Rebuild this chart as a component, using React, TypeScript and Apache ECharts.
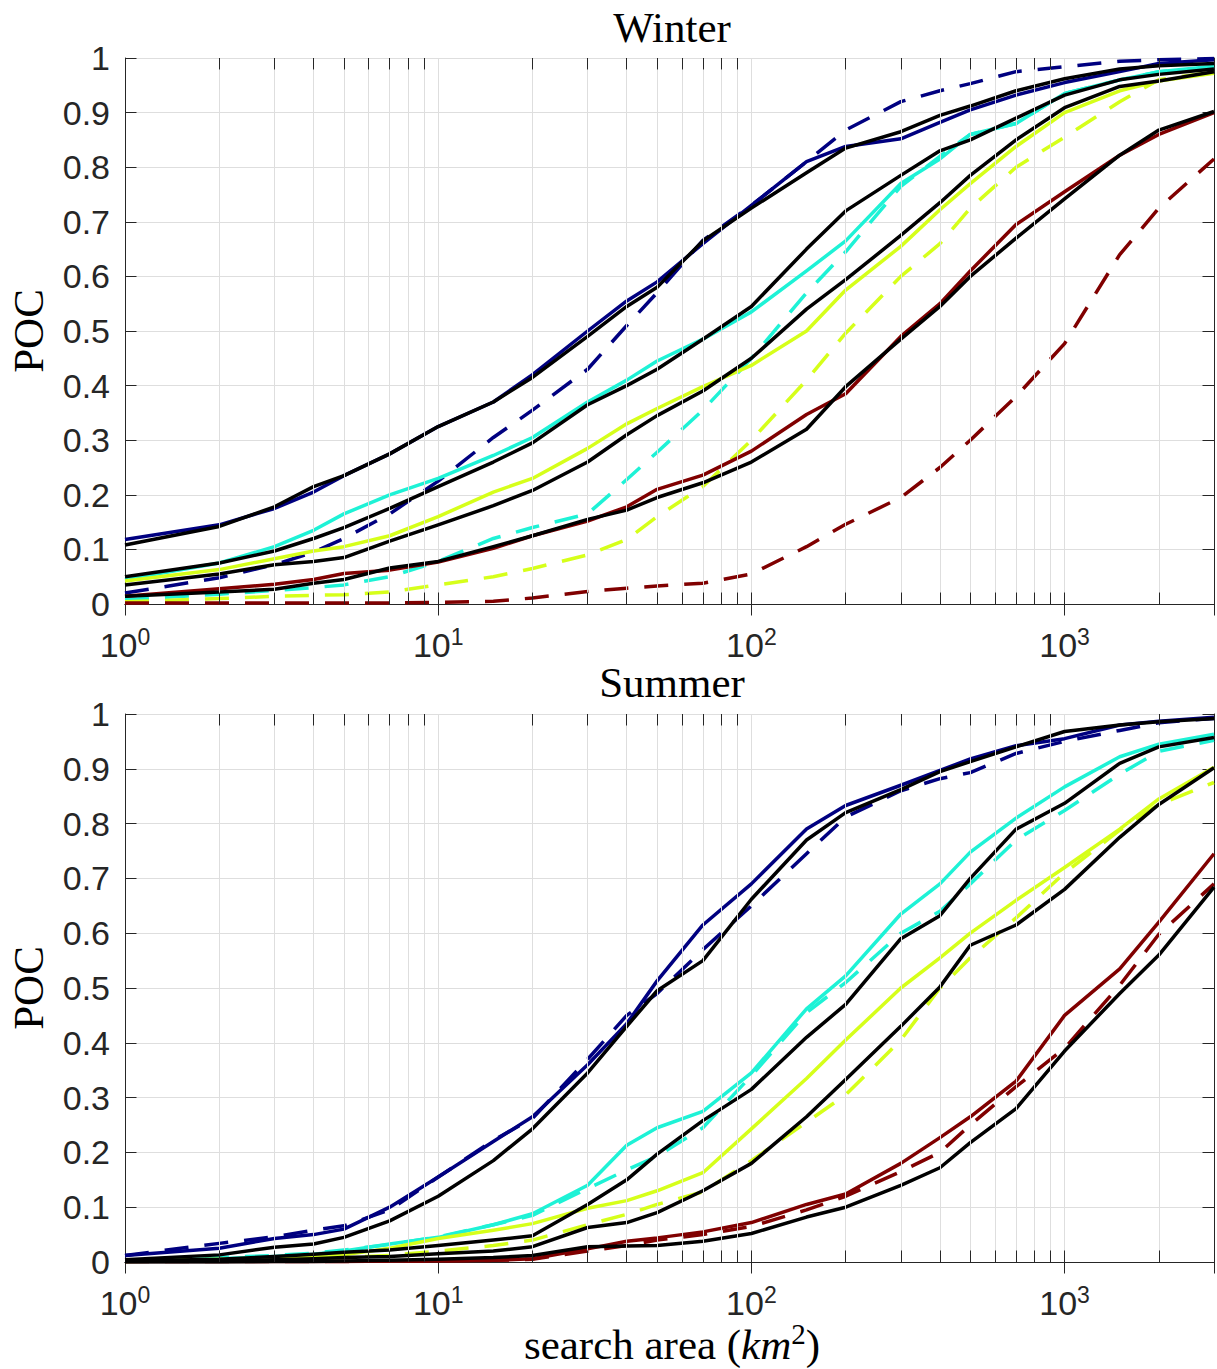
import React, { useEffect, useRef } from "react";
import * as echarts from "echarts";

// search area (km^2) sample points shared by all curves
const AREA = [1, 2, 3, 4, 5, 7, 10, 15, 20, 30, 40, 50, 70, 100, 150, 200, 300, 400, 500, 700, 1000, 1500, 2000, 3000];

// Winter
const W_BLUE = [0.118, 0.145, 0.175, 0.205, 0.235, 0.275, 0.325, 0.37, 0.42, 0.5, 0.555, 0.59, 0.66, 0.73, 0.81, 0.838, 0.852, 0.882, 0.905, 0.932, 0.955, 0.975, 0.99, 0.997];
const W_BLUE_D = [0.02, 0.048, 0.072, 0.095, 0.12, 0.165, 0.225, 0.305, 0.355, 0.43, 0.51, 0.57, 0.666, 0.73, 0.81, 0.868, 0.92, 0.94, 0.953, 0.975, 0.984, 0.994, 0.997, 0.999];
const W_BLACK1 = [0.108, 0.142, 0.178, 0.215, 0.235, 0.275, 0.325, 0.37, 0.415, 0.49, 0.545, 0.58, 0.665, 0.725, 0.79, 0.835, 0.865, 0.895, 0.912, 0.94, 0.962, 0.98, 0.986, 0.99];
const W_CYAN = [0.045, 0.075, 0.105, 0.135, 0.165, 0.2, 0.23, 0.272, 0.305, 0.37, 0.41, 0.445, 0.485, 0.535, 0.61, 0.665, 0.77, 0.815, 0.86, 0.88, 0.935, 0.96, 0.975, 0.985];
const W_CYAN_D = [0.008, 0.018, 0.025, 0.03, 0.035, 0.05, 0.078, 0.12, 0.14, 0.165, 0.228, 0.278, 0.355, 0.45, 0.57, 0.645, 0.765, 0.82, 0.86, 0.88, 0.935, 0.96, 0.975, 0.982];
const W_BLACK2 = [0.05, 0.075, 0.097, 0.12, 0.14, 0.175, 0.215, 0.26, 0.295, 0.365, 0.4, 0.43, 0.485, 0.545, 0.65, 0.72, 0.785, 0.83, 0.85, 0.89, 0.932, 0.96, 0.97, 0.98];
const W_YELLOW = [0.042, 0.063, 0.083, 0.097, 0.105, 0.125, 0.16, 0.205, 0.23, 0.285, 0.33, 0.358, 0.398, 0.437, 0.5, 0.575, 0.655, 0.722, 0.77, 0.838, 0.9, 0.94, 0.958, 0.972];
const W_YELLOW_D = [0.004, 0.01, 0.014, 0.016, 0.017, 0.022, 0.035, 0.05, 0.065, 0.09, 0.118, 0.16, 0.215, 0.3, 0.41, 0.496, 0.6, 0.66, 0.725, 0.8, 0.855, 0.92, 0.96, 0.975];
const W_BLACK3 = [0.035, 0.055, 0.072, 0.078, 0.085, 0.115, 0.145, 0.18, 0.208, 0.26, 0.31, 0.345, 0.39, 0.45, 0.54, 0.594, 0.675, 0.735, 0.785, 0.85, 0.909, 0.948, 0.958, 0.975];
const W_RED = [0.014, 0.028, 0.036, 0.045, 0.056, 0.062, 0.077, 0.102, 0.125, 0.152, 0.178, 0.21, 0.236, 0.28, 0.347, 0.385, 0.49, 0.55, 0.61, 0.695, 0.755, 0.822, 0.86, 0.9];
const W_RED_D = [0.002, 0.002, 0.002, 0.002, 0.002, 0.002, 0.003, 0.005, 0.011, 0.023, 0.029, 0.033, 0.038, 0.055, 0.105, 0.146, 0.195, 0.25, 0.3, 0.38, 0.477, 0.64, 0.725, 0.815];
const W_BLACK4 = [0.014, 0.022, 0.027, 0.038, 0.045, 0.066, 0.078, 0.105, 0.125, 0.155, 0.172, 0.195, 0.222, 0.26, 0.32, 0.398, 0.485, 0.545, 0.6, 0.67, 0.742, 0.822, 0.868, 0.902];

// Summer
const S_BLUE = [0.012, 0.025, 0.043, 0.05, 0.06, 0.1, 0.155, 0.22, 0.265, 0.36, 0.435, 0.513, 0.615, 0.69, 0.79, 0.833, 0.87, 0.897, 0.918, 0.942, 0.955, 0.98, 0.987, 0.994];
const S_BLUE_D = [0.012, 0.034, 0.046, 0.058, 0.066, 0.095, 0.155, 0.222, 0.262, 0.37, 0.45, 0.49, 0.57, 0.65, 0.745, 0.812, 0.86, 0.882, 0.893, 0.928, 0.95, 0.97, 0.984, 0.992];
const S_BLACK1 = [0.004, 0.013, 0.027, 0.033, 0.045, 0.075, 0.12, 0.185, 0.243, 0.345, 0.43, 0.495, 0.55, 0.662, 0.77, 0.82, 0.862, 0.895, 0.913, 0.94, 0.968, 0.98, 0.986, 0.992];
const S_CYAN = [0.003, 0.006, 0.01, 0.014, 0.02, 0.033, 0.045, 0.068, 0.088, 0.14, 0.213, 0.245, 0.275, 0.345, 0.462, 0.522, 0.635, 0.69, 0.748, 0.81, 0.867, 0.922, 0.945, 0.963];
const S_CYAN_D = [0.003, 0.008, 0.012, 0.016, 0.022, 0.032, 0.046, 0.068, 0.085, 0.134, 0.168, 0.193, 0.245, 0.34, 0.455, 0.51, 0.6, 0.64, 0.69, 0.77, 0.824, 0.89, 0.932, 0.952];
const S_BLACK2 = [0.002, 0.005, 0.01, 0.014, 0.018, 0.022, 0.03, 0.04, 0.048, 0.105, 0.15, 0.197, 0.258, 0.315, 0.41, 0.47, 0.59, 0.632, 0.7, 0.79, 0.837, 0.91, 0.94, 0.957];
const S_YELLOW = [0.002, 0.005, 0.008, 0.01, 0.013, 0.025, 0.043, 0.058, 0.07, 0.098, 0.112, 0.13, 0.163, 0.243, 0.335, 0.405, 0.5, 0.555, 0.6, 0.66, 0.72, 0.79, 0.845, 0.903];
const S_YELLOW_D = [0.001, 0.002, 0.004, 0.006, 0.008, 0.012, 0.02, 0.03, 0.04, 0.068, 0.087, 0.105, 0.128, 0.185, 0.255, 0.305, 0.405, 0.5, 0.555, 0.628, 0.71, 0.788, 0.835, 0.875];
const S_BLACK3 = [0.001, 0.002, 0.004, 0.006, 0.008, 0.01, 0.015, 0.02, 0.028, 0.063, 0.072, 0.09, 0.13, 0.18, 0.265, 0.333, 0.43, 0.502, 0.578, 0.615, 0.68, 0.775, 0.835, 0.902];
const S_RED = [0.001, 0.001, 0.001, 0.001, 0.001, 0.002, 0.002, 0.003, 0.006, 0.024, 0.038, 0.044, 0.055, 0.072, 0.105, 0.124, 0.18, 0.227, 0.265, 0.33, 0.45, 0.535, 0.62, 0.745];
const S_RED_D = [0.001, 0.001, 0.001, 0.001, 0.001, 0.002, 0.002, 0.003, 0.005, 0.02, 0.03, 0.04, 0.05, 0.065, 0.095, 0.12, 0.165, 0.2, 0.25, 0.32, 0.39, 0.505, 0.598, 0.69];
const S_BLACK4 = [0, 0, 0.001, 0.001, 0.002, 0.003, 0.005, 0.008, 0.012, 0.028, 0.029, 0.03, 0.038, 0.052, 0.082, 0.1, 0.14, 0.172, 0.218, 0.28, 0.385, 0.49, 0.56, 0.684];

// axis ticks
const DECADES = [1, 10, 100, 1000];
const MINOR_X = [2, 3, 4, 5, 6, 7, 8, 9, 20, 30, 40, 50, 60, 70, 80, 90, 200, 300, 400, 500, 600, 700, 800, 900, 2000];
const X_MIN = 1;
const X_MAX = 3000;
const Y_STEP = 0.1;

const TITLES = ["Winter", "Summer"];
const Y_NAME = "POC";

const NAVY = "#000080";
const CYAN = "#1ef2d6";
const LIME = "#d6ff1a";
const MAROON = "#800000";
const BLACK = "#000000";
const AXIS_C = "#262626";
const GRID_C = "#dedede";
const SANS = '"Liberation Sans", Arial, sans-serif';
const SERIF = '"Liberation Serif", "Times New Roman", serif';

const PANELS = [
  {
    lines: [
      [W_BLUE, NAVY, false], [W_BLUE_D, NAVY, true],
      [W_CYAN, CYAN, false], [W_CYAN_D, CYAN, true],
      [W_YELLOW, LIME, false], [W_YELLOW_D, LIME, true],
      [W_RED, MAROON, false], [W_RED_D, MAROON, true],
      [W_BLACK1, BLACK, false], [W_BLACK2, BLACK, false],
      [W_BLACK3, BLACK, false], [W_BLACK4, BLACK, false],
    ],
  },
  {
    lines: [
      [S_BLUE, NAVY, false], [S_BLUE_D, NAVY, true],
      [S_CYAN, CYAN, false], [S_CYAN_D, CYAN, true],
      [S_YELLOW, LIME, false], [S_YELLOW_D, LIME, true],
      [S_RED, MAROON, false], [S_RED_D, MAROON, true],
      [S_BLACK1, BLACK, false], [S_BLACK2, BLACK, false],
      [S_BLACK3, BLACK, false], [S_BLACK4, BLACK, false],
    ],
  },
];

const GRIDS = [
  { left: 125, top: 58, width: 1095, height: 546 },
  { left: 125, top: 714, width: 1095, height: 548 },
];

const TICK_FRAC = 0.021;

function buildOption() {
  const xAxis: any[] = [];
  const yAxis: any[] = [];
  const series: any[] = [];

  GRIDS.forEach((_, g) => {
    xAxis.push({
      gridIndex: g,
      type: "log",
      logBase: 10,
      min: X_MIN,
      max: X_MAX,
      position: "bottom",
      axisLine: { show: true, lineStyle: { color: AXIS_C, width: 1 } },
      axisTick: { show: true, inside: true, length: 11.5, lineStyle: { color: AXIS_C, width: 1 } },
      axisLabel: {
        show: true,
        margin: 21,
        formatter: (v: number) => {
          const e = Math.round(Math.log10(v));
          const d = DECADES.find((dv) => Math.abs(dv - v) < 1e-6 * dv);
          if (d === undefined) return "";
          return `{b|10}{s|${e}}`;
        },
        rich: {
          b: { fontSize: 34, fontFamily: SANS, color: AXIS_C, lineHeight: 40 },
          s: { fontSize: 23, fontFamily: SANS, color: AXIS_C, lineHeight: 30, verticalAlign: "top" },
        },
      },
      splitLine: { show: true, lineStyle: { color: GRID_C, width: 1 } },
    });
    xAxis.push({
      gridIndex: g,
      type: "log",
      logBase: 10,
      min: X_MIN,
      max: X_MAX,
      position: "top",
      axisLine: { show: true, lineStyle: { color: AXIS_C, width: 1 } },
      axisTick: { show: true, inside: true, length: 11.5, lineStyle: { color: AXIS_C, width: 1 } },
      axisLabel: { show: false },
      splitLine: { show: false },
    });
    yAxis.push({
      gridIndex: g,
      type: "value",
      min: 0,
      max: 1,
      interval: Y_STEP,
      position: "left",
      axisLine: { show: true, lineStyle: { color: AXIS_C, width: 1 } },
      axisTick: { show: true, inside: true, length: 11.5, lineStyle: { color: AXIS_C, width: 1 } },
      axisLabel: {
        show: true,
        margin: 15,
        fontSize: 34,
        fontFamily: SANS,
        color: AXIS_C,
        formatter: (v: number) => String(Math.round(v * 10) / 10),
      },
      splitLine: { show: true, lineStyle: { color: GRID_C, width: 1 } },
    });
    yAxis.push({
      gridIndex: g,
      type: "value",
      min: 0,
      max: 1,
      interval: Y_STEP,
      position: "right",
      axisLine: { show: true, lineStyle: { color: AXIS_C, width: 1 } },
      axisTick: { show: true, inside: true, length: 11.5, lineStyle: { color: AXIS_C, width: 1 } },
      axisLabel: { show: false },
      splitLine: { show: false },
    });

    const xi = g * 2;
    const yi = g * 2;

    // minor grid lines
    series.push({
      type: "line",
      xAxisIndex: xi,
      yAxisIndex: yi,
      data: [],
      z: 1,
      silent: true,
      markLine: {
        silent: true,
        symbol: ["none", "none"],
        label: { show: false },
        lineStyle: { color: GRID_C, width: 1, type: "solid" },
        emphasis: { disabled: true },
        data: MINOR_X.map((v) => ({ xAxis: v })),
      },
    });

    PANELS[g].lines.forEach(([vals, color, dashed]: any) => {
      series.push({
        type: "line",
        xAxisIndex: xi,
        yAxisIndex: yi,
        data: AREA.map((x, i) => [x, vals[i]]),
        showSymbol: false,
        symbol: "none",
        silent: true,
        z: 3,
        lineStyle: {
          color,
          width: 3.5,
          type: dashed ? [24, 16] : "solid",
          cap: "butt",
          join: "round",
        },
      });
    });

    // minor ticks on top and bottom
    series.push({
      type: "line",
      xAxisIndex: xi,
      yAxisIndex: yi,
      data: [],
      z: 4,
      silent: true,
      markLine: {
        silent: true,
        symbol: ["none", "none"],
        label: { show: false },
        lineStyle: { color: AXIS_C, width: 1, type: "solid" },
        emphasis: { disabled: true },
        data: [
          ...MINOR_X.map((v) => [{ coord: [v, 0] }, { coord: [v, TICK_FRAC] }]),
          ...MINOR_X.map((v) => [{ coord: [v, 1] }, { coord: [v, 1 - TICK_FRAC] }]),
        ],
      },
    });
  });

  const graphic: any[] = [
    {
      type: "text",
      x: 672,
      y: 27,
      style: { text: TITLES[0], fontSize: 43, fontFamily: SERIF, fill: "#000", align: "center", verticalAlign: "middle" },
    },
    {
      type: "text",
      x: 672,
      y: 682,
      style: { text: TITLES[1], fontSize: 43, fontFamily: SERIF, fill: "#000", align: "center", verticalAlign: "middle" },
    },
    {
      type: "text",
      x: 28,
      y: 331,
      rotation: Math.PI / 2,
      style: { text: Y_NAME, fontSize: 43, fontFamily: SERIF, fill: "#000", align: "center", verticalAlign: "middle" },
    },
    {
      type: "text",
      x: 28,
      y: 988,
      rotation: Math.PI / 2,
      style: { text: Y_NAME, fontSize: 43, fontFamily: SERIF, fill: "#000", align: "center", verticalAlign: "middle" },
    },
    {
      type: "text",
      x: 672,
      y: 1344,
      style: {
        text: "{a|search area (}{i|km}{s|2}{a|)}",
        align: "center",
        verticalAlign: "middle",
        rich: {
          a: { fontSize: 43, fontFamily: SERIF, fill: "#000", lineHeight: 50 },
          i: { fontSize: 43, fontFamily: SERIF, fontStyle: "italic", fill: "#000", lineHeight: 50 },
          s: { fontSize: 29, fontFamily: SERIF, fill: "#000", lineHeight: 26, verticalAlign: "top" },
        },
      },
    },
  ];

  return {
    animation: false,
    backgroundColor: "#ffffff",
    grid: GRIDS,
    xAxis,
    yAxis,
    series,
    graphic,
  };
}

export default function App() {
  const ref = useRef<HTMLDivElement>(null);
  useEffect(() => {
    if (!ref.current) return;
    const chart = echarts.init(ref.current, undefined, { renderer: "svg" });
    chart.setOption(buildOption() as any);
    return () => {
      chart.dispose();
    };
  }, []);
  return (
    <div
      ref={ref}
      style={{ position: "fixed", left: 0, top: 0, width: 1217, height: 1369, background: "#fff" }}
    />
  );
}
